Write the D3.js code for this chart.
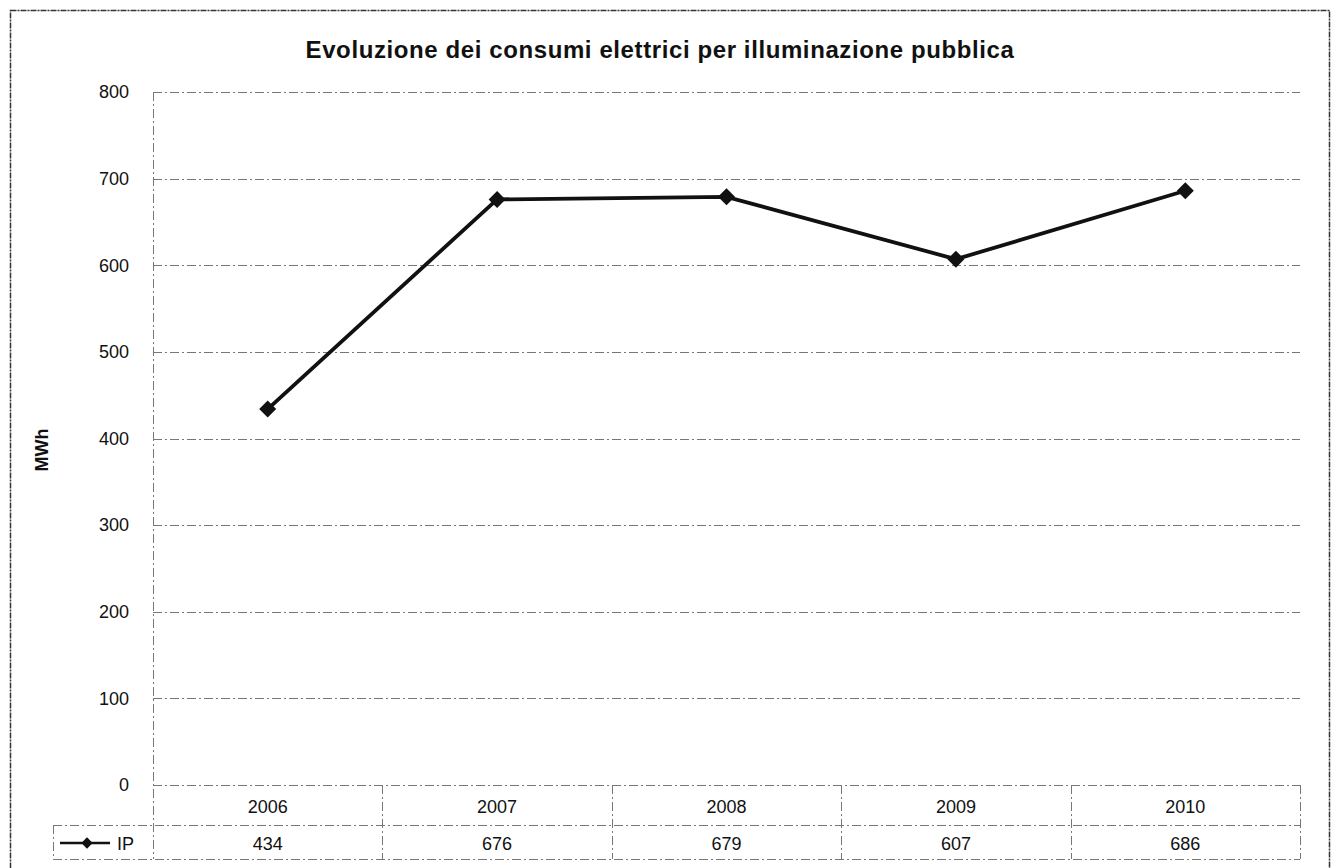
<!DOCTYPE html>
<html><head><meta charset="utf-8">
<script src="https://cdn.jsdelivr.net/npm/d3@7"></script>
<style>body{margin:0;background:#fff;} svg{display:block;font-family:Arial,"Liberation Sans",sans-serif;}</style>
</head><body>
<script>
const categories = ["2006","2007","2008","2009","2010"];
const seriesName = "IP";
const values = [434, 676, 679, 607, 686];
const yTicks = [0,100,200,300,400,500,600,700,800];
const title = "Evoluzione dei consumi elettrici per illuminazione pubblica";
const yLabel = "MWh";

(function(){
const W = 1332, H = 868;
const svg = d3.select("body").append("svg").attr("width", W).attr("height", H);
const pLeft = 153, pRight = 1300, pTop = 92, pBottom = 785;
const row1 = 825, row2 = 859;

svg.append("rect").attr("x",10.5).attr("y",10.5).attr("width",1319).attr("height",870)
  .attr("fill","none").attr("stroke","#333").attr("stroke-width",1.5).attr("stroke-dasharray","6,1,2,1");

const x = d3.scaleBand().domain(categories).range([pLeft,pRight]);
const y = d3.scaleLinear().domain([0,800]).range([pBottom,pTop]);

const gridStyle = g => g.attr("stroke","#777").attr("stroke-width",1).attr("stroke-dasharray","9,3,2,3");
svg.append("g").selectAll("line").data(yTicks).join("line")
  .attr("x1",pLeft).attr("x2",pRight).attr("y1",d=>Math.round(y(d))+0.5).attr("y2",d=>Math.round(y(d))+0.5)
  .call(gridStyle);
svg.append("line").attr("x1",pLeft+0.5).attr("x2",pLeft+0.5).attr("y1",pTop).attr("y2",row2).call(gridStyle);

const yAxis = d3.axisLeft(y).tickValues(yTicks).tickSize(0).tickPadding(0);
const ga = svg.append("g").attr("transform",`translate(${129},0)`).call(yAxis);
ga.select(".domain").remove();
ga.selectAll("text").attr("font-size",18).attr("fill","#111").attr("font-family","Arial, 'Liberation Sans', sans-serif");

svg.append("text").attr("transform",`translate(48,450) rotate(-90)`).attr("text-anchor","middle")
  .attr("font-size",18).attr("font-weight","bold").attr("fill","#111").text(yLabel);

svg.append("text").attr("x",660).attr("y",58).attr("text-anchor","middle")
  .attr("font-size",24).attr("font-weight","bold").attr("fill","#111").attr("letter-spacing",0.6).text(title);

const tg = svg.append("g");
tg.append("line").attr("x1",53).attr("x2",pRight).attr("y1",row1+0.5).attr("y2",row1+0.5).call(gridStyle);
tg.append("line").attr("x1",53).attr("x2",pRight).attr("y1",row2+0.5).attr("y2",row2+0.5).call(gridStyle);
tg.append("line").attr("x1",53.5).attr("x2",53.5).attr("y1",row1).attr("y2",row2).call(gridStyle);
tg.selectAll("line.v").data(categories).join("line").attr("class","v")
  .attr("x1",d=>Math.round(x(d)+x.bandwidth())+0.5).attr("x2",d=>Math.round(x(d)+x.bandwidth())+0.5)
  .attr("y1",pBottom).attr("y2",row2).call(gridStyle);
tg.selectAll("text.cat").data(categories).join("text").attr("class","cat")
  .attr("x",d=>x(d)+x.bandwidth()/2).attr("y",813).attr("text-anchor","middle")
  .attr("font-size",18).attr("fill","#111").text(d=>d);
tg.selectAll("text.val").data(values).join("text").attr("class","val")
  .attr("x",(d,i)=>x(categories[i])+x.bandwidth()/2).attr("y",850).attr("text-anchor","middle")
  .attr("font-size",18).attr("fill","#111").text(d=>d);
tg.append("line").attr("x1",60).attr("x2",110).attr("y1",843).attr("y2",843).attr("stroke","#111").attr("stroke-width",2.5);
tg.append("rect").attr("x",-4).attr("y",-4).attr("width",8).attr("height",8)
  .attr("transform","translate(87,843) rotate(45)").attr("fill","#111");
tg.append("text").attr("x",117).attr("y",850).attr("font-size",18).attr("fill","#111").text(seriesName);

const line = d3.line().x((d,i)=>x(categories[i])+x.bandwidth()/2).y(d=>y(d));
svg.append("path").datum(values).attr("d",line).attr("fill","none").attr("stroke","#111").attr("stroke-width",3.8);
svg.selectAll("rect.pt").data(values).join("rect").attr("class","pt")
  .attr("x",-6).attr("y",-6).attr("width",12).attr("height",12)
  .attr("transform",(d,i)=>`translate(${x(categories[i])+x.bandwidth()/2},${y(d)}) rotate(45)`)
  .attr("fill","#111");
})();
</script>
</body></html>
